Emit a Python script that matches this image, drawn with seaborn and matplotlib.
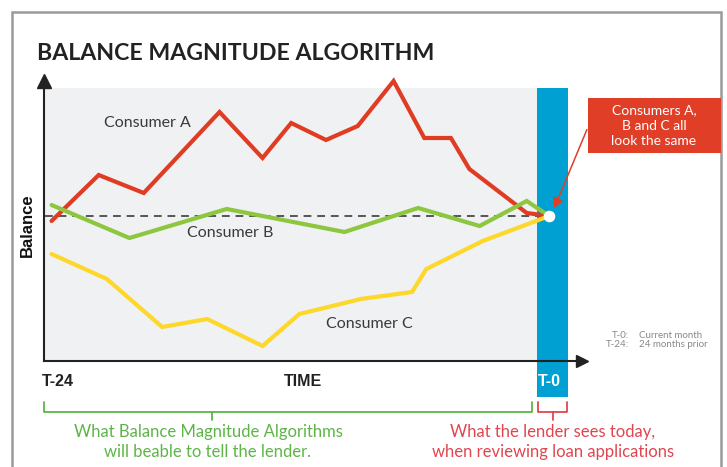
import matplotlib
matplotlib.use('Agg')
import matplotlib.pyplot as plt
from matplotlib.patches import Rectangle
import pandas as pd
import seaborn as sns

# months before today (T-0) and balance (arbitrary units)
a_month = [-24.3, -22.0, -19.8, -16.1, -14.0, -12.6, -10.9, -9.35, -7.6, -6.1, -4.8, -3.9, -1.1, 0]
a_balance = [140, 186, 168, 249, 203, 238, 221, 235, 280, 223, 223, 192, 148, 145]
b_month = [-24.3, -20.5, -15.75, -10.0, -6.4, -3.4, -1.1, 0]
b_balance = [156, 123, 152, 129, 153, 135, 160, 145]
c_month = [-24.3, -21.6, -18.9, -16.7, -14.0, -12.2, -9.2, -6.7, -6.0, -3.25, 0]
c_balance = [107, 82, 34, 42, 15, 47, 62, 69, 92, 120, 145]
today_balance = 145

consumers = ['Consumer A', 'Consumer B', 'Consumer C']
colors = ['#e03c24', '#8dc63f', '#fdd72a']
tick_months = [-24, -20, -16, -12, -8, -4, 0]
tick_labels = ['T-24', '', '', 'TIME', '', '', 'T-0']

df = pd.concat([
    pd.DataFrame({'month': a_month, 'balance': a_balance, 'consumer': consumers[0]}),
    pd.DataFrame({'month': b_month, 'balance': b_balance, 'consumer': consumers[1]}),
    pd.DataFrame({'month': c_month, 'balance': c_balance, 'consumer': consumers[2]}),
])

sns.set_style('white')
plt.rcParams['font.family'] = ['Lato', 'DejaVu Sans']

W, H = 727, 467
fx = lambda x: x / W
fy = lambda y: 1 - y / H

fig = plt.figure(figsize=(W / 100, H / 100), dpi=100)
ax = fig.add_axes([fx(44), fy(361), (582 - 44) / W, (361 - 81) / H])
ax.set_xlim(-24.67, 1.6)
ax.set_ylim(0, 280)

# shaded history area and the blue "today" band
ax.add_patch(Rectangle((-24.67, 0), 24.07, 273, color='#f0f1f3', zorder=0, lw=0))
ax.add_patch(Rectangle((-0.6, -36), 1.51, 309, color='#00a0d2', zorder=0.5, lw=0, clip_on=False))

ax.plot([-24.62, 0], [today_balance, today_balance], color='#555555', lw=1.4,
        ls=(0, (4, 3)), zorder=1.5)

sns.lineplot(data=df, x='month', y='balance', hue='consumer', palette=colors,
             sort=False, estimator=None, lw=3, legend=False, ax=ax,
             solid_joinstyle='miter', zorder=2, clip_on=False)
ax.scatter([0], [today_balance], s=70, color='white', zorder=4, lw=0)

ax.text(-19.6, 238, 'Consumer A', ha='center', va='center', fontsize=11.5, color='#3a3a3a')
ax.text(-15.6, 128, 'Consumer B', ha='center', va='center', fontsize=11.5, color='#3a3a3a')
ax.text(-8.8, 37, 'Consumer C', ha='center', va='center', fontsize=11.5, color='#3a3a3a')

# axes with arrow heads
sns.despine(ax=ax)
for s in ['left', 'bottom']:
    ax.spines[s].set_color('#222222')
    ax.spines[s].set_linewidth(1.5)
ax.plot(1, 0, '>', color='#222222', ms=9, transform=ax.transAxes, clip_on=False)
ax.plot(0, 1, '^', color='#222222', ms=10, transform=ax.transAxes, clip_on=False)

ax.set_yticks([])
ax.set_xticks(tick_months)
ax.set_xticklabels(tick_labels, fontfamily=['Liberation Sans', 'DejaVu Sans'],
                   fontweight='bold', fontsize=11.5, color='#222222')
ax.get_xticklabels()[-1].set_color('white')
ax.tick_params(axis='x', direction='inout', length=12, width=1.1, color='#222222', pad=3.5)
ax.set_xlabel('')
ax.set_ylabel('')

fig.text(fx(27), fy(225), 'Balance', rotation=90, ha='center', va='center',
         fontsize=12, fontweight='bold', fontfamily=['Liberation Sans', 'DejaVu Sans'],
         color='#111111')
fig.text(fx(37), fy(53), 'BALANCE MAGNITUDE ALGORITHM', ha='left', va='center',
         fontsize=16.7, fontweight='bold', color='#222222')

# outer frame
fig.patches.append(Rectangle((fx(12), fy(475)), (721 - 12) / W, (475 - 12) / H,
                             transform=fig.transFigure, fill=False, ec='#9a9a9a', lw=1.8))

# callout box
fig.patches.append(Rectangle((fx(588), fy(153)), (721 - 588) / W, (153 - 98) / H,
                             transform=fig.transFigure, color='#e03e26', lw=0))
fig.text(fx(654), fy(125.5), 'Consumers A,\nB and C all\nlook the same', ha='center',
         va='center', fontsize=10, color='white', linespacing=1.35)
fig.patches.append(matplotlib.patches.FancyArrowPatch(
    (fx(588), fy(127)), (fx(553), fy(211)), transform=fig.transFigure,
    arrowstyle='-|>,head_length=6,head_width=3', color='#e03e26', lw=1.1))

# legend notes
fig.text(fx(629), fy(335), 'T-0:', ha='right', va='center', fontsize=7, color='#888888')
fig.text(fx(639), fy(335), 'Current month', ha='left', va='center', fontsize=7, color='#888888')
fig.text(fx(629), fy(344.5), 'T-24:', ha='right', va='center', fontsize=7, color='#888888')
fig.text(fx(639), fy(344.5), '24 months prior', ha='left', va='center', fontsize=7, color='#888888')

# brackets under the axis
green, red = '#5db548', '#e0464f'
fig.add_artist(plt.Line2D([fx(44), fx(44), fx(532), fx(532)],
                          [fy(401.5), fy(411.5), fy(411.5), fy(401.5)], color=green, lw=1.3))
fig.add_artist(plt.Line2D([fx(212), fx(212)], [fy(411.5), fy(420)], color=green, lw=1.3))
fig.add_artist(plt.Line2D([fx(538), fx(538), fx(567), fx(567)],
                          [fy(401.5), fy(411.5), fy(411.5), fy(401.5)], color=red, lw=1.3))
fig.add_artist(plt.Line2D([fx(552.5), fx(552.5)], [fy(411.5), fy(420)], color=red, lw=1.3))

fig.text(fx(208), fy(442), 'What Balance Magnitude Algorithms\nwill beable to tell the lender.',
         ha='center', va='center', fontsize=12, color=green, linespacing=1.3)
fig.text(fx(553), fy(442), 'What the lender sees today,\nwhen reviewing loan applications',
         ha='center', va='center', fontsize=12, color=red, linespacing=1.3)

fig.savefig('out.png', dpi=100)
